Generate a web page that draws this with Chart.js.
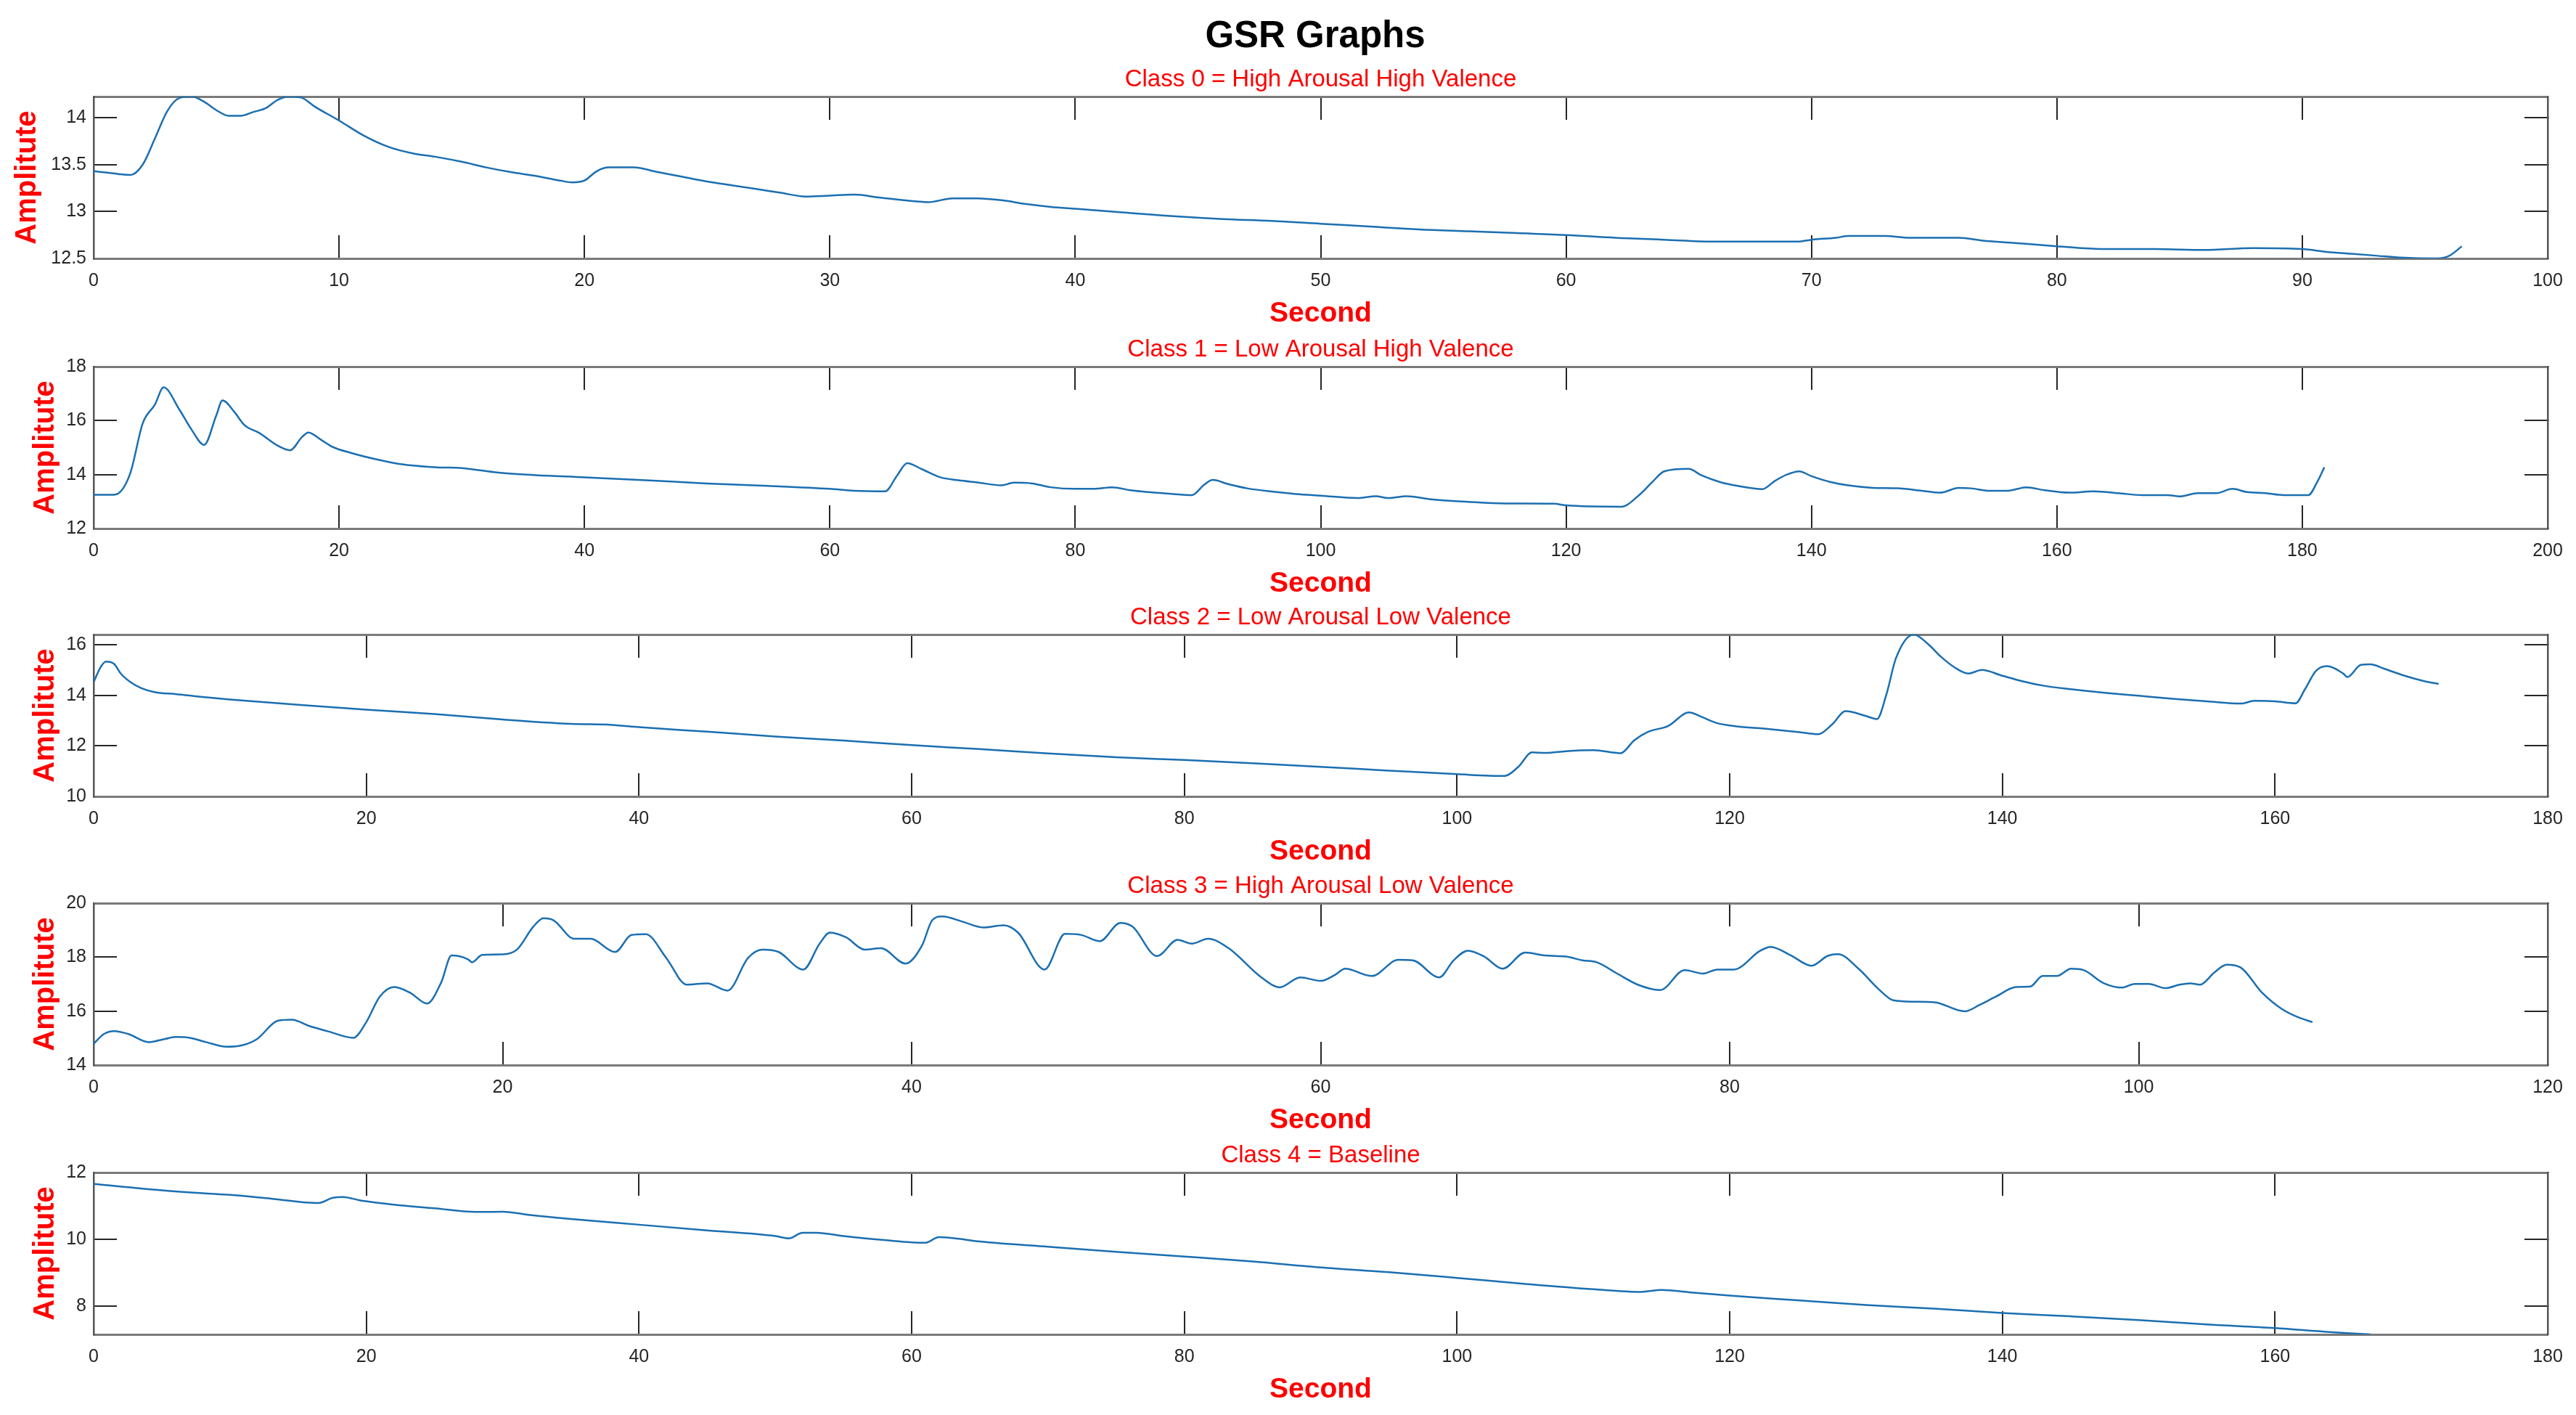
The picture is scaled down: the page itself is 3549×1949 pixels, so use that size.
<!DOCTYPE html>
<html>
<head>
<meta charset="utf-8">
<title>GSR Graphs</title>
<script src="https://cdn.jsdelivr.net/npm/chart.js@4.4.1/dist/chart.umd.min.js"></script>
<style>
  html, body { margin: 0; padding: 0; background: #ffffff; }
  body { width: 3549px; height: 1949px; position: relative; overflow: hidden; }
  #mainTitle {
    position: absolute; left: 0; top: 22px; width: 3624px;
    text-align: center; font: bold 51px 'Liberation Sans', Arial, sans-serif;
    line-height: 1; color: #000;
  }
  canvas { position: absolute; left: 0; }
</style>
</head>
<body>
<div id="mainTitle">GSR Graphs</div>
<script>
// Class 0 = High Arousal High Valence
const class0Sec = [0, 1, 1.5, 2, 2.5, 3, 3.5, 4, 4.5, 5, 5.5, 6, 6.5, 7, 7.5, 8, 8.5, 9, 10, 11, 12, 13, 14, 15, 16, 17, 18, 19, 19.5, 20, 20.5, 21, 22, 23, 24, 25, 26, 27, 28, 29, 30, 31, 32, 33, 34, 35, 36, 37, 38, 39, 40, 42, 44, 46, 48, 50, 52, 54, 56, 58, 60, 62, 64, 66, 68, 69.5, 70, 71, 71.5, 73, 74, 76, 77, 78, 79, 80, 81, 82, 84, 86, 88, 90, 91, 92, 93, 94, 95.5, 96, 96.5];
const class0Amp = [13.43, 13.40, 13.39, 13.50, 13.78, 14.07, 14.21, 14.225, 14.17, 14.08, 14.02, 14.02, 14.06, 14.10, 14.19, 14.225, 14.21, 14.12, 13.97, 13.81, 13.69, 13.62, 13.58, 13.53, 13.47, 13.42, 13.38, 13.33, 13.31, 13.33, 13.43, 13.47, 13.47, 13.42, 13.37, 13.32, 13.28, 13.24, 13.20, 13.16, 13.17, 13.18, 13.15, 13.12, 13.10, 13.14, 13.14, 13.12, 13.08, 13.05, 13.03, 12.99, 12.95, 12.92, 12.90, 12.87, 12.84, 12.81, 12.79, 12.77, 12.75, 12.72, 12.70, 12.68, 12.68, 12.68, 12.70, 12.72, 12.74, 12.74, 12.72, 12.72, 12.69, 12.67, 12.65, 12.63, 12.61, 12.60, 12.60, 12.59, 12.61, 12.60, 12.57, 12.55, 12.53, 12.51, 12.50, 12.53, 12.63];

// Class 1 = Low Arousal High Valence
const class1Sec = [0, 1.5, 2, 3, 4, 5, 5.7, 7, 8, 9, 10, 10.5, 11.5, 12.3, 13.5, 15, 16, 17, 17.5, 18.5, 19.5, 21, 23, 25, 28, 30, 33, 36, 40, 45, 50, 55, 60, 62, 64.5, 65.5, 66.3, 67.5, 69, 70.5, 72, 74, 75, 76.5, 78, 80, 81.5, 83, 84.5, 86, 88, 89.5, 90.5, 91.2, 92.5, 94, 96, 98, 100, 103, 104.5, 105.5, 107, 109, 112, 115, 119, 120, 124.5, 126, 127, 128, 130, 131, 132.5, 134, 136, 137, 138, 139, 140, 141.5, 143, 145, 147, 149, 150.5, 152, 153, 154.5, 156, 157.5, 159, 161, 163, 165, 167, 169, 170, 171.5, 173, 174.3, 175.5, 177, 178.5, 180.5, 181.2, 181.8];
const class1Amp = [13.25, 13.25, 13.30, 14.07, 15.90, 16.60, 17.23, 16.40, 15.65, 15.10, 16.20, 16.75, 16.30, 15.83, 15.54, 15.07, 14.90, 15.40, 15.56, 15.30, 15.02, 14.80, 14.57, 14.39, 14.27, 14.24, 14.07, 13.98, 13.90, 13.79, 13.67, 13.58, 13.47, 13.40, 13.38, 13.98, 14.42, 14.20, 13.90, 13.79, 13.71, 13.60, 13.70, 13.67, 13.53, 13.47, 13.47, 13.53, 13.42, 13.35, 13.28, 13.24, 13.62, 13.80, 13.64, 13.49, 13.37, 13.28, 13.22, 13.13, 13.20, 13.13, 13.20, 13.08, 12.99, 12.93, 12.92, 12.86, 12.81, 13.26, 13.71, 14.12, 14.21, 13.98, 13.73, 13.58, 13.46, 13.76, 14.00, 14.12, 13.94, 13.73, 13.60, 13.51, 13.49, 13.40, 13.33, 13.51, 13.49, 13.40, 13.40, 13.53, 13.42, 13.33, 13.38, 13.31, 13.24, 13.24, 13.19, 13.31, 13.31, 13.47, 13.35, 13.31, 13.24, 13.24, 13.71, 14.27];

// Class 2 = Low Arousal Low Valence
const class2Sec = [0, 0.5, 0.9, 1.5, 2, 2.7, 3.5, 4.5, 6, 8, 10, 15, 20, 25, 30, 35, 38, 40, 45, 50, 55, 60, 65, 70, 75, 80, 85, 90, 95, 100, 103.5, 104.5, 105.5, 106.5, 108, 110, 112, 113, 114, 115.5, 117, 118, 119, 120.5, 122.5, 125, 126.5, 127.5, 128.5, 130, 130.8, 131.5, 132.2, 133.5, 134.5, 135.5, 136.5, 137.5, 138.5, 140, 141.5, 143, 145, 147.5, 150, 152.5, 155, 157.5, 158.5, 160, 161.5, 162.2, 163, 163.8, 165, 165.3, 166.3, 167, 168, 169.5, 171, 172];
const class2Amp = [14.52, 15.10, 15.33, 15.24, 14.85, 14.52, 14.28, 14.12, 14.05, 13.93, 13.83, 13.62, 13.43, 13.26, 13.04, 12.87, 12.83, 12.74, 12.56, 12.37, 12.21, 12.03, 11.87, 11.70, 11.55, 11.44, 11.31, 11.17, 11.02, 10.88, 10.81, 11.17, 11.74, 11.72, 11.79, 11.83, 11.71, 12.22, 12.55, 12.79, 13.32, 13.13, 12.91, 12.77, 12.68, 12.55, 12.46, 12.84, 13.37, 13.18, 13.06, 14.04, 15.47, 16.40, 16.05, 15.52, 15.10, 14.86, 15.00, 14.77, 14.55, 14.38, 14.24, 14.10, 13.98, 13.86, 13.76, 13.67, 13.78, 13.76, 13.68, 14.24, 14.96, 15.15, 14.86, 14.72, 15.20, 15.22, 15.05, 14.77, 14.55, 14.45];

// Class 3 = High Arousal Low Valence
const class3Sec = [0, 0.5, 1, 1.7, 2.7, 3.5, 4, 4.7, 5.5, 6.5, 7.3, 8, 9, 9.7, 10.5, 11.5, 12.7, 13.3, 14, 14.7, 15.5, 16.3, 17, 17.5, 18.3, 18.5, 19, 20, 20.7, 21.5, 22, 22.5, 23.5, 24.3, 25.5, 26.3, 27, 28, 29, 30, 31, 32, 32.7, 33.5, 34.7, 35.5, 36, 36.8, 37.7, 38.5, 39.7, 40.5, 41, 41.5, 42.5, 43.5, 44.5, 45.2, 46.5, 47.5, 48.3, 49.2, 50.2, 50.8, 52, 53, 53.7, 54.5, 55.5, 57.1, 58, 59, 60, 60.7, 61.2, 62.5, 63.8, 64.5, 65.8, 66.5, 67.2, 68, 68.9, 70, 71, 72, 72.8, 73.5, 74.5, 75.5, 76.6, 77.8, 78.7, 79.4, 80.2, 81.5, 82, 83, 84, 84.8, 85.3, 86.3, 87.3, 88, 89, 90, 91.5, 92.2, 93, 94, 94.7, 95.3, 96, 96.7, 97.3, 98.3, 99.2, 99.8, 100.5, 101.3, 102, 102.5, 103, 103.7, 104.3, 105, 106, 107, 107.8, 108.5];
const class3Amp = [14.79, 15.15, 15.26, 15.15, 14.85, 14.97, 15.04, 15.01, 14.85, 14.68, 14.74, 14.97, 15.64, 15.68, 15.46, 15.24, 15.01, 15.55, 16.54, 16.89, 16.67, 16.28, 17.07, 18.06, 17.92, 17.81, 18.08, 18.10, 18.28, 19.13, 19.44, 19.36, 18.68, 18.68, 18.19, 18.82, 18.85, 17.97, 16.98, 17.03, 16.76, 17.97, 18.28, 18.19, 17.54, 18.50, 18.91, 18.73, 18.28, 18.33, 17.76, 18.42, 19.36, 19.51, 19.31, 19.10, 19.18, 18.91, 17.54, 18.86, 18.82, 18.59, 19.27, 19.13, 18.04, 18.64, 18.50, 18.68, 18.33, 17.25, 16.88, 17.25, 17.12, 17.34, 17.57, 17.30, 17.90, 17.88, 17.25, 17.88, 18.24, 18.02, 17.57, 18.17, 18.06, 18.02, 17.88, 17.81, 17.39, 16.98, 16.78, 17.52, 17.39, 17.54, 17.54, 18.24, 18.38, 18.06, 17.68, 18.05, 18.11, 17.57, 16.80, 16.40, 16.35, 16.33, 15.99, 16.22, 16.53, 16.89, 16.91, 17.30, 17.30, 17.57, 17.52, 17.03, 16.87, 17.01, 17.01, 16.85, 16.98, 17.03, 16.98, 17.43, 17.72, 17.61, 16.71, 16.08, 15.77, 15.59];

// Class 4 = Baseline
const class4Sec = [0, 5, 8, 10, 13, 16.5, 17.5, 18.3, 19.5, 22, 25, 28, 30, 32, 35, 40, 45, 50, 51, 52, 53, 55, 58, 61, 62, 63, 65, 70, 75, 80, 85, 90, 95, 100, 105, 110, 113.5, 115, 117, 120, 125, 130, 135, 140, 145, 150, 155, 160, 164, 167];
const class4Amp = [11.66, 11.47, 11.38, 11.33, 11.22, 11.09, 11.24, 11.27, 11.17, 11.04, 10.93, 10.82, 10.83, 10.73, 10.61, 10.44, 10.27, 10.10, 10.03, 10.20, 10.20, 10.10, 9.98, 9.90, 10.07, 10.04, 9.94, 9.78, 9.63, 9.49, 9.34, 9.16, 9.02, 8.85, 8.67, 8.51, 8.43, 8.49, 8.42, 8.32, 8.18, 8.04, 7.93, 7.80, 7.70, 7.59, 7.46, 7.35, 7.23, 7.16];

// tick labels
const xTicks0 = [0, 10, 20, 30, 40, 50, 60, 70, 80, 90, 100];
const xTicks1 = [0, 20, 40, 60, 80, 100, 120, 140, 160, 180, 200];
const xTicks2 = [0, 20, 40, 60, 80, 100, 120, 140, 160, 180];
const xTicks3 = [0, 20, 40, 60, 80, 100, 120];
const xTicks4 = [0, 20, 40, 60, 80, 100, 120, 140, 160, 180];
const yTicks0 = [12.5, 13, 13.5, 14];
const yTicks1 = [12, 14, 16, 18];
const yTicks2 = [10, 12, 14, 16];
const yTicks3 = [14, 16, 18, 20];
const yTicks4 = [8, 10, 12];

const FONT = "'Liberation Sans', Arial, Helvetica, sans-serif";
Chart.defaults.font.family = FONT;

const RED = '#ff0000';
const LINE = '#1b6fb1';
const TICK = '#262626';
const CANVAS_W = 3549;
const PLOT_LEFT = 129;
const PLOT_RIGHT = 3510;
const PLOT_H = 223;
const TOP_SPACE = 60;
const BOTTOM_SPACE = 100;
const TICK_LEN = 32;

const panels = [
  { title: 'Class 0 = High Arousal High Valence', sec: class0Sec, amp: class0Amp, xTicks: xTicks0, yTicks: yTicks0, xMax: 100, yMin: 12.5, yMax: 14.225, top: 133, yTitlePad: 14 },
  { title: 'Class 1 = Low Arousal High Valence', sec: class1Sec, amp: class1Amp, xTicks: xTicks1, yTicks: yTicks1, xMax: 200, yMin: 12, yMax: 18, top: 505, yTitlePad: 39 },
  { title: 'Class 2 = Low Arousal Low Valence', sec: class2Sec, amp: class2Amp, xTicks: xTicks2, yTicks: yTicks2, xMax: 180, yMin: 10, yMax: 16.4, top: 874, yTitlePad: 39 },
  { title: 'Class 3 = High Arousal Low Valence', sec: class3Sec, amp: class3Amp, xTicks: xTicks3, yTicks: yTicks3, xMax: 120, yMin: 14, yMax: 20, top: 1244, yTitlePad: 39 },
  { title: 'Class 4 = Baseline', sec: class4Sec, amp: class4Amp, xTicks: xTicks4, yTicks: yTicks4, xMax: 180, yMin: 7.16, yMax: 12, top: 1615, yTitlePad: 39 }
];

function tickMarks() {
  return { drawOnChartArea: false, drawTicks: true, tickLength: -TICK_LEN, color: TICK, lineWidth: 2 };
}

panels.forEach((p) => {
  const canvas = document.createElement('canvas');
  canvas.width = CANVAS_W;
  canvas.height = TOP_SPACE + PLOT_H + BOTTOM_SPACE;
  canvas.style.top = (p.top - TOP_SPACE) + 'px';
  document.body.appendChild(canvas);

  const points = p.sec.map((s, i) => ({ x: s, y: p.amp[i] }));
  const setX = (axis) => { axis.ticks = p.xTicks.map(v => ({ value: v })); };
  const setY = (axis) => { axis.ticks = p.yTicks.map(v => ({ value: v })); };

  new Chart(canvas, {
    type: 'line',
    data: {
      datasets: [{
        data: points,
        borderColor: LINE,
        borderWidth: 2.5,
        pointRadius: 0,
        fill: false,
        cubicInterpolationMode: 'monotone'
      }]
    },
    options: {
      responsive: false,
      animation: false,
      events: [],
      layout: { padding: { left: 0, right: CANVAS_W - PLOT_RIGHT, top: 0, bottom: 0 } },
      scales: {
        x: {
          type: 'linear', position: 'bottom', min: 0, max: p.xMax,
          afterBuildTicks: setX,
          // fixed axis height; tick padding must not widen the side margins
          afterFit: (axis) => { axis.height = BOTTOM_SPACE; axis.paddingLeft = 0; axis.paddingRight = 0; },
          ticks: { callback: v => String(v), autoSkip: false, maxRotation: 0, padding: 48, color: TICK, font: { size: 25 } },
          grid: tickMarks(),
          border: { display: true, color: '#7a7a7a', width: 3 },
          title: { display: true, text: 'Second', color: RED, font: { size: 39, weight: 'bold' }, padding: { top: 0, bottom: 0 } }
        },
        xTop: {
          type: 'linear', position: 'top', min: 0, max: p.xMax,
          afterBuildTicks: setX,
          afterFit: (axis) => { axis.height = TOP_SPACE; },
          ticks: { display: false },
          grid: tickMarks(),
          border: { display: true, color: '#7a7a7a', width: 3 },
          title: { display: true, text: p.title, color: RED, font: { size: 33, weight: 'normal' }, padding: { top: 17.5, bottom: 0 } }
        },
        y: {
          type: 'linear', position: 'left', min: p.yMin, max: p.yMax,
          afterBuildTicks: setY,
          afterFit: (axis) => { axis.width = PLOT_LEFT; },
          ticks: { callback: v => String(v), padding: 42, color: TICK, font: { size: 25 } },
          grid: tickMarks(),
          border: { display: true, color: '#555555', width: 2.5 },
          title: { display: true, text: 'Amplitute', color: RED, font: { size: 40, weight: 'bold' }, padding: { top: p.yTitlePad, bottom: 0 } }
        },
        yRight: {
          type: 'linear', position: 'right', min: p.yMin, max: p.yMax,
          afterBuildTicks: setY,
          afterFit: (axis) => { axis.width = 0; },
          ticks: { display: false },
          grid: tickMarks(),
          border: { display: true, color: '#555555', width: 2.5 }
        }
      },
      plugins: {
        legend: { display: false },
        tooltip: { enabled: false },
        title: { display: false }
      }
    }
  });
});
</script>
</body>
</html>
